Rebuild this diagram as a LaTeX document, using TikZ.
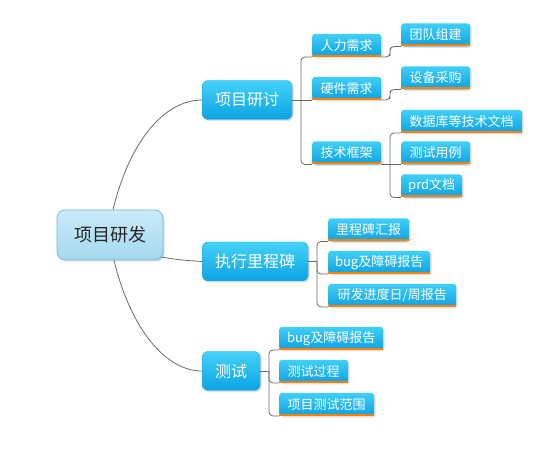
\documentclass[tikz,border=0pt]{standalone}
\usepackage{fontspec}
\setmainfont{Noto Sans CJK SC}
\usetikzlibrary{shadows}
\definecolor{linegray}{HTML}{6A6A6A}
\definecolor{roottop}{HTML}{CBEBF8}
\definecolor{rootbot}{HTML}{A4D8EF}
\definecolor{rootborder}{HTML}{6FB9D9}
\definecolor{maintop}{HTML}{45D2F8}
\definecolor{mainbot}{HTML}{0CA3E3}
\definecolor{mainborder}{HTML}{2AACE3}
\definecolor{subtop}{HTML}{40CFF7}
\definecolor{subbot}{HTML}{0EA2E2}
\definecolor{ulorange}{HTML}{FF7F00}
\tikzset{
  conn/.style={draw=linegray, line width=0.8pt, rounded corners=4pt},
  shade/.style={drop shadow={opacity=0.25, shadow xshift=1.5pt, shadow yshift=-1.5pt}},
  rootbox/.style={shade, rounded corners=8pt, draw=rootborder, line width=0.7pt,
    top color=roottop, bottom color=rootbot, minimum width=106pt, minimum height=50pt,
    inner sep=0pt, text=black!85, font=\fontsize{18}{20}\selectfont},
  mainbox/.style={shade, rounded corners=6pt, draw=mainborder, line width=0.4pt,
    top color=maintop, bottom color=mainbot, minimum height=39pt, inner sep=0pt,
    text=white, font=\fontsize{16}{18}\selectfont, anchor=west},
  subbox/.style={shade, rounded corners=3pt, top color=subtop, bottom color=subbot,
    minimum height=23pt, inner sep=0pt, text=white,
    font=\fontsize{13}{15}\selectfont, anchor=south west},
  ul/.style={draw=ulorange, line width=2pt}
}
\begin{document}
\begin{tikzpicture}[x=1pt,y=-1pt]
\useasboundingbox (0,0) rectangle (560,462);
% root and main nodes
\node[rootbox] (root) at (110,235) {项目研发};
\node[mainbox, minimum width=90pt] (m1) at (202,100) {项目研讨};
\node[mainbox, minimum width=106pt] (m2) at (202,261.5) {执行里程碑};
\node[mainbox, minimum width=58pt] (m3) at (202,371) {测试};
% level 2 / 3 nodes
\node[subbox, minimum width=69pt] (c1) at (312,57) {人力需求};
\node[subbox, minimum width=69pt] (c2) at (312,100) {硬件需求};
\node[subbox, minimum width=69pt] (c3) at (312,164.5) {技术框架};
\node[subbox, minimum width=69pt] (d1) at (401,46.5) {团队组建};
\node[subbox, minimum width=69pt] (d2) at (401,89.5) {设备采购};
\node[subbox, minimum width=121pt] (d3) at (401,133) {数据库等技术文档};
\node[subbox, minimum width=69pt] (d4) at (401,164.5) {测试用例};
\node[subbox, minimum width=61pt] (d5) at (401,197.5) {prd文档};
\node[subbox, minimum width=81pt] (e1) at (328,241.5) {里程碑汇报};
\node[subbox, minimum width=102pt] (e2) at (328,274) {bug及障碍报告};
\node[subbox, minimum width=128pt] (e3) at (328,307) {研发进度日/周报告};
\node[subbox, minimum width=104pt] (f1) at (279,350) {bug及障碍报告};
\node[subbox, minimum width=69pt] (f2) at (279,383) {测试过程};
\node[subbox, minimum width=95pt] (f3) at (279,416) {项目测试范围};
\foreach \n in {c1,c2,c3,d1,d2,d3,d4,d5,e1,e2,e3,f1,f2,f3}
  \draw[ul] ([yshift=1pt]\n.south west) -- ([yshift=1pt]\n.south east);
% junction coordinates
\coordinate (j1) at (301,100);
\coordinate (k1) at (390,52);
\coordinate (k2) at (390,95);
\coordinate (k3) at (390,164.5);
\coordinate (j2) at (317,261.5);
\coordinate (j3) at (269,371);
\coordinate (r2) at (161,257);
% root connectors
\draw[conn] ([xshift=3pt]root.north) .. controls (130,140) and (165,100) .. (m1.west);
\draw[conn] (r2) .. controls (180,260) .. (m2.west);
\draw[conn] ([xshift=4pt]root.south) .. controls (131,330) and (166,371) .. (m3.west);
% project discussion branch
\draw[conn] (m1.east) -- (c2.south west);
\draw[conn] (c1.south west) -| (j1) |- (c3.south west);
\draw[conn] (c1.south east) -| (k1) |- (d1.south west);
\draw[conn] (c2.south east) -| (k2) |- (d2.south west);
\draw[conn] (c3.south east) -- (d4.south west);
\draw[conn] (d3.south west) -| (k3) |- (d5.south west);
% milestone branch
\draw[conn] (m2.east) -- (j2);
\draw[conn] (e1.south west) -| (j2) |- (e3.south west);
\draw[conn] (j2) |- (e2.south west);
% test branch
\draw[conn] (m3.east) -- (j3);
\draw[conn] (f1.south west) -| (j3) |- (f3.south west);
\draw[conn] (j3) |- (f2.south west);
\end{tikzpicture}
\end{document}
